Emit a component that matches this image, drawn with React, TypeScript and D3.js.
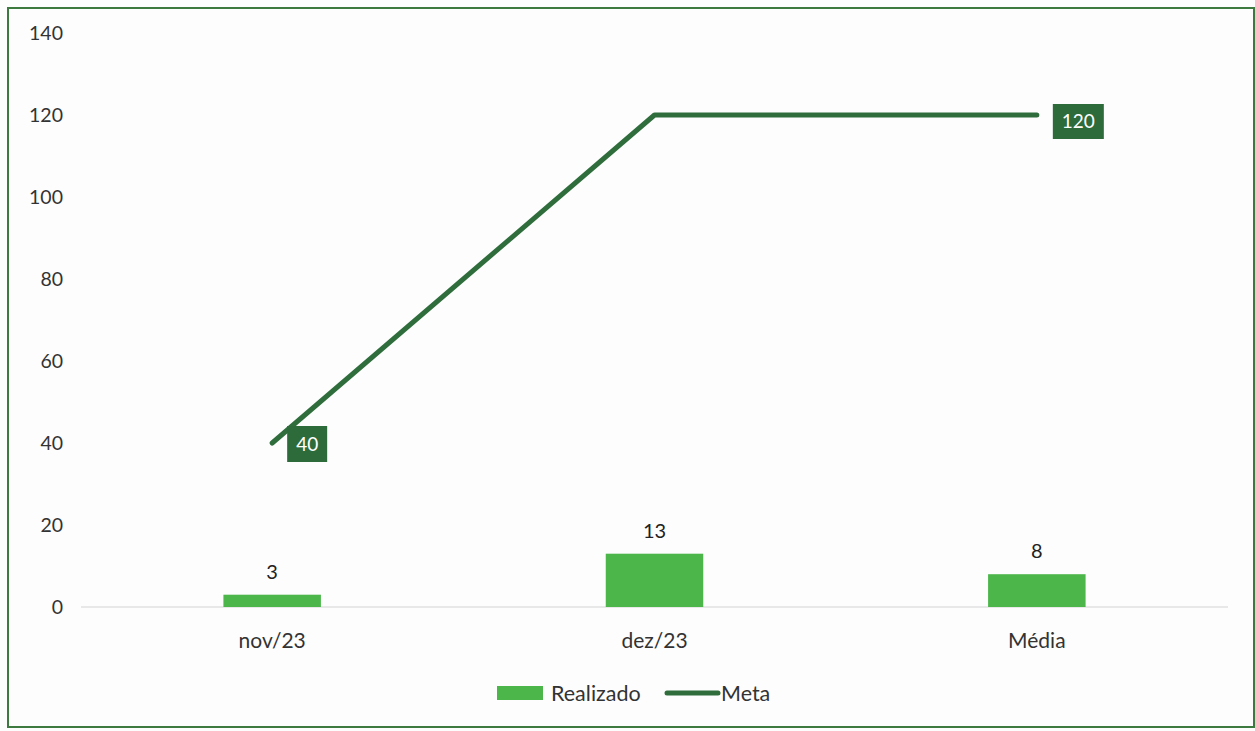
import React from "react";
import * as d3 from "d3";

const categories = ["nov/23", "dez/23", "Média"];
const realizado = [3, 13, 8];
const meta = [40, 120, 120];
const yTicks = [0, 20, 40, 60, 80, 100, 120, 140];

const W = 1255;
const H = 731;
const FONT = "Lato, 'Open Sans', sans-serif";
const BAR = "#4cb64a";
const LINE = "#2f6e3c";
const BOX = "#2e6b3b";

export default function App() {
  const x = d3.scaleBand<string>().domain(categories).range([81, 1228]).paddingInner(0).paddingOuter(0);
  const y = d3.scaleLinear().domain([0, 140]).range([607, 33]);
  const bw = x.bandwidth() * 0.255;
  const cx = (c: string) => (x(c) as number) + x.bandwidth() / 2;
  const line = d3
    .line<number>()
    .x((_, i) => cx(categories[i]))
    .y((d) => y(d));

  return (
    <svg
      width={W}
      height={H}
      style={{ position: "absolute", left: 0, top: 0, background: "#fff" }}
      fontFamily={FONT}
    >
      <rect x={0} y={0} width={W} height={H} fill="#fdfdfd" />
      <rect x={8} y={8} width={1246} height={719} fill="none" stroke="#3d7a3f" strokeWidth={2} />
      {yTicks.map((t) => (
        <text key={t} x={63} y={y(t)} dy="0.35em" textAnchor="end" fontSize={19.5} fill="#333">
          {t}
        </text>
      ))}
      <line x1={81} x2={1228} y1={y(0)} y2={y(0)} stroke="#d4d4d4" strokeWidth={1.2} />
      {categories.map((c, i) => (
        <g key={c}>
          <rect x={cx(c) - bw / 2} y={y(realizado[i])} width={bw} height={y(0) - y(realizado[i])} fill={BAR} />
          <text x={cx(c)} y={y(realizado[i]) - 16} textAnchor="middle" fontSize={20} fill="#222">
            {realizado[i]}
          </text>
          <text x={cx(c)} y={y(0) + 41} textAnchor="middle" fontSize={21} fill="#333">
            {c}
          </text>
        </g>
      ))}
      <path d={line(meta) || ""} fill="none" stroke={LINE} strokeWidth={5} strokeLinecap="round" strokeLinejoin="round" />
      {(() => {
        const p0x = cx(categories[0]);
        const p0y = y(meta[0]);
        const p2x = cx(categories[2]);
        const p2y = y(meta[2]);
        return (
          <g>
            <rect x={p0x + 15} y={p0y - 17} width={40} height={36} fill={BOX} />
            <text x={p0x + 35} y={p0y + 1} dy="0.35em" textAnchor="middle" fontSize={19} fill="#fff">
              {meta[0]}
            </text>
            <rect x={p2x + 16} y={p2y - 11} width={51} height={35} fill={BOX} />
            <text x={p2x + 41.5} y={p2y + 6.5} dy="0.35em" textAnchor="middle" fontSize={19} fill="#fff">
              {meta[2]}
            </text>
          </g>
        );
      })()}
      <rect x={497} y={686} width={46} height={14} fill={BAR} />
      <text x={551} y={693} dy="0.35em" fontSize={21.5} fill="#333">
        Realizado
      </text>
      <line x1={667} x2={718} y1={693} y2={693} stroke={LINE} strokeWidth={5} strokeLinecap="round" />
      <text x={721} y={693} dy="0.35em" fontSize={21.5} fill="#333">
        Meta
      </text>
    </svg>
  );
}
